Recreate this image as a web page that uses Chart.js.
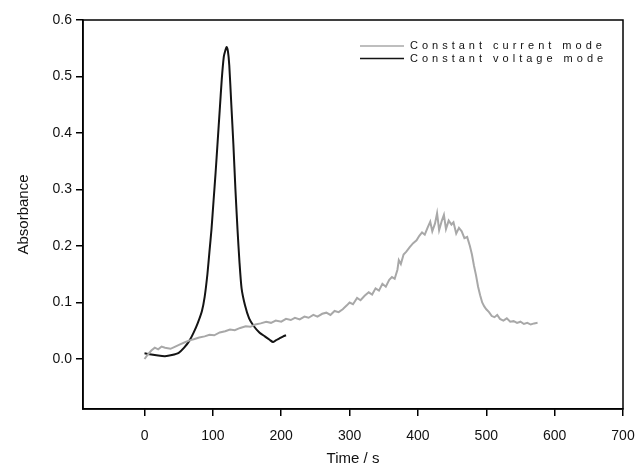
<!DOCTYPE html>
<html>
<head>
<meta charset="utf-8">
<script src="https://cdn.jsdelivr.net/npm/chart.js@4.4.0/dist/chart.umd.min.js"></script>
<style>
  html, body { margin: 0; padding: 0; background: #fff; }
  #wrap { width: 638px; height: 472px; }
</style>
</head>
<body>
<div id="wrap"><canvas id="chart" width="638" height="472"></canvas></div>
<script>
// constant voltage mode (black) : time [s], absorbance
const voltageTime = [0, 10, 20, 30, 40, 50, 58, 66, 72, 78, 84, 88, 92, 95, 98, 101, 104, 107, 110, 113, 116, 118, 120, 122, 124, 127, 130, 133, 136, 139, 142, 147, 153, 160, 168, 176, 183, 188, 192, 197, 203, 207];
const voltageAbs = [0.010, 0.008, 0.006, 0.005, 0.007, 0.011, 0.020, 0.033, 0.047, 0.064, 0.085, 0.110, 0.150, 0.190, 0.230, 0.280, 0.330, 0.385, 0.440, 0.495, 0.535, 0.545, 0.552, 0.545, 0.520, 0.450, 0.380, 0.300, 0.230, 0.170, 0.125, 0.095, 0.072, 0.058, 0.047, 0.040, 0.034, 0.030, 0.033, 0.036, 0.040, 0.042];

// constant current mode (grey)
const currentTime = [0, 5, 10, 15, 20, 25, 30, 38, 45, 52, 60, 66, 72, 80, 88, 95, 102, 110, 118, 125, 132, 140, 148, 155, 162, 170, 178, 185, 192, 200, 207, 214, 220, 227, 234, 240, 247, 253, 260, 266, 272, 278, 284, 290, 296, 300, 305, 311, 316, 322, 328, 333, 338, 343, 348, 353, 358, 362, 366, 370, 372, 375, 379, 383, 388, 393, 398, 402, 406, 410, 414, 418, 421, 425, 428, 431, 435, 438, 441, 445, 449, 452, 456, 460, 464, 468, 472, 476, 479, 482, 485, 488, 491, 494, 497, 500, 504, 508, 512, 516, 520, 525, 530, 535, 540, 545, 550, 555, 560, 565, 570, 575];
const currentAbs = [0.000, 0.008, 0.015, 0.020, 0.017, 0.022, 0.020, 0.018, 0.022, 0.026, 0.030, 0.033, 0.035, 0.038, 0.040, 0.043, 0.042, 0.047, 0.049, 0.052, 0.051, 0.055, 0.058, 0.057, 0.061, 0.063, 0.066, 0.064, 0.068, 0.066, 0.071, 0.069, 0.073, 0.070, 0.075, 0.073, 0.078, 0.075, 0.080, 0.082, 0.078, 0.085, 0.083, 0.088, 0.095, 0.100, 0.097, 0.108, 0.104, 0.112, 0.118, 0.114, 0.125, 0.121, 0.133, 0.128, 0.140, 0.145, 0.142, 0.158, 0.175, 0.168, 0.185, 0.190, 0.198, 0.205, 0.210, 0.218, 0.224, 0.220, 0.232, 0.243, 0.226, 0.240, 0.258, 0.228, 0.245, 0.255, 0.230, 0.245, 0.238, 0.242, 0.222, 0.232, 0.226, 0.214, 0.216, 0.200, 0.185, 0.165, 0.148, 0.128, 0.113, 0.100, 0.093, 0.088, 0.083, 0.076, 0.074, 0.078, 0.071, 0.068, 0.072, 0.066, 0.067, 0.064, 0.066, 0.062, 0.064, 0.061, 0.063, 0.064];

const xTicks = [0, 100, 200, 300, 400, 500, 600, 700];
const yTicks = [0.0, 0.1, 0.2, 0.3, 0.4, 0.5, 0.6];
const seriesNames = ['Constant current mode', 'Constant voltage mode'];

const toPoints = (xs, ys) => xs.map((x, i) => ({ x: x, y: ys[i] }));

// box around the plot + legend in the top right corner
const framePlugin = {
  id: 'frame',
  afterDraw(chart) {
    const { ctx, chartArea } = chart;
    ctx.save();
    ctx.strokeStyle = '#000';
    ctx.lineWidth = 1.5;
    ctx.strokeRect(chartArea.left, chartArea.top, chartArea.right - chartArea.left, chartArea.bottom - chartArea.top);

    ctx.font = '11px "Liberation Sans", Arial, sans-serif';
    ctx.letterSpacing = '4px';
    ctx.textBaseline = 'middle';
    chart.data.datasets.forEach((ds, i) => {
      const y = 46 + i * 12.5;
      ctx.strokeStyle = ds.borderColor;
      ctx.lineWidth = 1.5;
      ctx.beginPath();
      ctx.moveTo(360, y);
      ctx.lineTo(404, y);
      ctx.stroke();
      ctx.fillStyle = '#111';
      ctx.fillText(ds.label, 410, y);
    });
    ctx.restore();
  }
};

new Chart(document.getElementById('chart'), {
  type: 'line',
  data: {
    datasets: [
      {
        label: seriesNames[0],
        data: toPoints(currentTime, currentAbs),
        borderColor: '#a8a8a8',
        borderWidth: 2,
        pointRadius: 0,
        tension: 0
      },
      {
        label: seriesNames[1],
        data: toPoints(voltageTime, voltageAbs),
        borderColor: '#141414',
        borderWidth: 2,
        pointRadius: 0,
        tension: 0.2
      }
    ]
  },
  options: {
    responsive: false,
    animation: false,
    layout: { padding: { top: 20, right: 15, left: 0, bottom: 0 } },
    plugins: { legend: { display: false }, tooltip: { enabled: false } },
    scales: {
      x: {
        type: 'linear',
        min: -90,
        max: 700,
        afterBuildTicks: (axis) => { axis.ticks = xTicks.map(v => ({ value: v })); },
        afterFit: (axis) => { axis.height = 63; axis.paddingLeft = 0; axis.paddingRight = 0; },
        border: { color: '#000', width: 1.5 },
        grid: { drawOnChartArea: false, color: '#000', lineWidth: 1.5, tickLength: 7 },
        ticks: { color: '#111', font: { family: '"Liberation Sans", Arial, sans-serif', size: 14 }, padding: 12, maxRotation: 0 },
        title: { display: true, text: 'Time / s', color: '#111', font: { family: '"Liberation Sans", Arial, sans-serif', size: 15 }, padding: { top: 2 } }
      },
      y: {
        type: 'linear',
        min: -0.0885,
        max: 0.6,
        afterBuildTicks: (axis) => { axis.ticks = yTicks.map(v => ({ value: v })); },
        afterFit: (axis) => { axis.width = 83; axis.paddingTop = 0; axis.paddingBottom = 0; },
        border: { color: '#000', width: 1.5 },
        grid: { drawOnChartArea: false, color: '#000', lineWidth: 1.5, tickLength: 7 },
        ticks: { color: '#111', font: { family: '"Liberation Sans", Arial, sans-serif', size: 14 }, padding: 4, callback: (v) => v.toFixed(1) },
        title: { display: true, text: 'Absorbance', color: '#111', font: { family: '"Liberation Sans", Arial, sans-serif', size: 15 }, padding: { top: 15, bottom: 0 } }
      }
    }
  },
  plugins: [framePlugin]
});
</script>
</body>
</html>
